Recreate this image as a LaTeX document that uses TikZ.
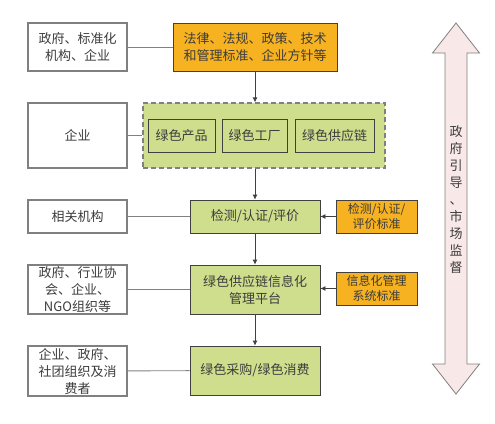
\documentclass[tikz,border=0pt]{standalone}
\usepackage{fontspec}
\setmainfont{Noto Sans CJK SC}
\usetikzlibrary{arrows.meta}
\definecolor{orangefill}{RGB}{246,178,32}
\definecolor{greenfill}{RGB}{206,222,140}
\definecolor{pinkfill}{RGB}{248,232,232}
\definecolor{textgray}{RGB}{60,60,60}
\begin{document}
\begin{tikzpicture}[x=1pt, y=-1pt,
  every node/.style={inner sep=0pt, align=center, text=textgray, font=\fontsize{13}{17}\selectfont},
  whitebox/.style={draw=gray, line width=1.2pt, fill=white, minimum width=99pt},
  orangebox/.style={draw=black!75, line width=0.8pt, fill=orangefill},
  greenbox/.style={draw=black!75, line width=0.8pt, fill=greenfill},
  link/.style={draw=gray, line width=0.9pt},
  flow/.style={draw=black!75, line width=0.8pt, -{Latex[length=5pt,width=5pt]}}]
\useasboundingbox (0,0) rectangle (495,423);
% left column
\node[whitebox, minimum height=48pt] (gov) at (77.5,47) {政府、标准化\\机构、企业};
\node[whitebox, minimum height=65pt] (ent) at (77.5,135.5) {企业};
\node[whitebox, minimum height=33pt] (org) at (77.5,216.5) {相关机构};
\node[whitebox, minimum height=49pt] (ngo) at (77.5,289.5) {政府、行业协\\会、企业、\\NGO组织等};
\node[whitebox, minimum height=50pt] (cons) at (77.5,371) {企业、政府、\\社团组织及消\\费者};
% middle column
\node[orangebox, minimum width=164pt, minimum height=48pt] (law) at (255,47) {法律、法规、政策、技术\\和管理标准、企业方针等};
\node[draw=gray, dashed, line width=1.2pt, dash pattern=on 5pt off 3pt, fill=greenfill,
  minimum width=242pt, minimum height=65pt] (green) at (264,135.5) {};
\node[greenbox, minimum width=67pt, minimum height=33pt] (prod) at (181.5,135.5) {绿色产品};
\node[greenbox, minimum width=65pt, minimum height=33pt] (fact) at (254.5,135.5) {绿色工厂};
\node[greenbox, minimum width=79pt, minimum height=33pt] (chain) at (334.5,135.5) {绿色供应链};
\node[greenbox, minimum width=130pt, minimum height=33pt] (test) at (255,216.5) {检测/认证/评价};
\node[greenbox, minimum width=130pt, minimum height=49pt] (info) at (255,289.5) {绿色供应链信息化\\管理平台};
\node[greenbox, minimum width=130pt, minimum height=49pt] (buy) at (255,370.5) {绿色采购/绿色消费};
% standards
\node[orangebox, minimum width=81pt, minimum height=33pt, font=\fontsize{12}{15}\selectfont] (std1) at (376.5,216.5) {检测/认证/\\评价标准};
\node[orangebox, minimum width=81pt, minimum height=33pt, font=\fontsize{12}{15}\selectfont] (std2) at (376.5,288.5) {信息化管理\\系统标准};
% links
\draw[link] (gov) -- (law);
\draw[link] (ent) -- (green);
\draw[link] (org) -- (test);
\draw[link] (ngo) -- (info);
\draw[link] (cons) -- (buy);
\draw[flow] (law.south) -- (law.south |- green.north);
\draw[flow] (law.south |- green.south) -- (test.north);
\draw[flow] (test) -- (info);
\draw[flow] (info) -- (buy);
\draw[flow] (std1) -- (test);
\draw[flow] (std2) -- (std2 -| info.east);
% guidance arrow
\draw[draw=black!50, line width=0.8pt, fill=pinkfill]
  (456,23) -- (479.5,53) -- (467,53) -- (467,364) -- (479.5,364) -- (456,394)
  -- (432.5,364) -- (445,364) -- (445,53) -- (432.5,53) -- cycle;
\node[font=\fontsize{13}{17}\selectfont] (guide) at (456,200) {政\\府\\引\\导\\、\\市\\场\\监\\督};
\end{tikzpicture}
\end{document}
